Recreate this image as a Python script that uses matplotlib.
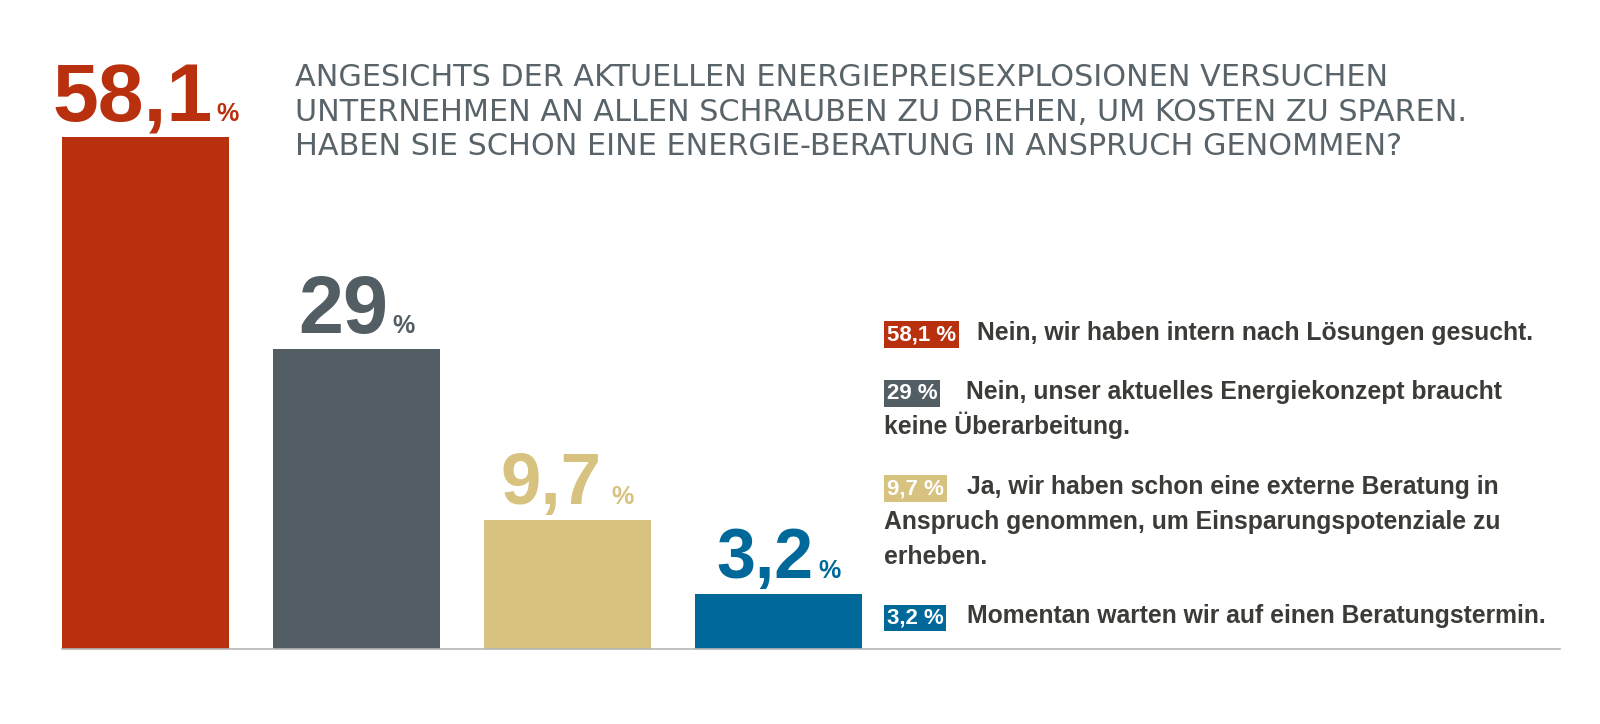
import numpy as np
import matplotlib
matplotlib.use("Agg")
import matplotlib.pyplot as plt

# Data
values = [58.1, 29.0, 9.7, 3.2]
value_labels = ["58,1", "29", "9,7", "3,2"]
colors = ["#B9300E", "#535D64", "#D7C27F", "#00699A"]
title_lines = [
    "ANGESICHTS DER AKTUELLEN ENERGIEPREISEXPLOSIONEN VERSUCHEN",
    "UNTERNEHMEN AN ALLEN SCHRAUBEN ZU DREHEN, UM KOSTEN ZU SPAREN.",
    "HABEN SIE SCHON EINE ENERGIE-BERATUNG IN ANSPRUCH GENOMMEN?",
]
legend_tags = ["58,1 %", "29 %", "9,7 %", "3,2 %"]
legend_texts = [
    ["Nein, wir haben intern nach Lösungen gesucht."],
    ["Nein, unser aktuelles Energiekonzept braucht", "keine Überarbeitung."],
    ["Ja, wir haben schon eine externe Beratung in",
     "Anspruch genommen, um Einsparungspotenziale zu", "erheben."],
    ["Momentan warten wir auf einen Beratungstermin."],
]

W, H = 1600, 724
FONT = "Liberation Sans"
TEXT_DARK = "#3C3B37"
TITLE_COL = "#59636A"


def fx(x):
    return x / W


def fy(y):
    return 1 - y / H


fig = plt.figure(figsize=(W / 100, H / 100), dpi=100)
fig.patch.set_facecolor("white")

# bars: axes spans from first bar's left edge to end of baseline
bar_w = 0.79
step_px = 211.0
x_left = -bar_w / 2
x_right = x_left + (1560 - 62) / step_px
ax = fig.add_axes([fx(62), fy(649), (1560 - 62) / W, (649 - 137) / H])

# bars in the original are not linear in value -> power scale on y
p = 0.77
ax.set_yscale("function", functions=(lambda v: np.sign(v) * np.abs(v) ** p,
                                     lambda v: np.sign(v) * np.abs(v) ** (1 / p)))
x = np.arange(len(values))
ax.bar(x, values, width=bar_w, color=colors, zorder=2)
ax.set_xlim(x_left, x_right)
ax.set_ylim(0, max(values))
for s in ["top", "left", "right"]:
    ax.spines[s].set_visible(False)
ax.spines["bottom"].set_color("#B5B5B5")
ax.spines["bottom"].set_linewidth(1.2)
ax.set_xticks([])
ax.set_yticks([])
ax.minorticks_off()
ax.patch.set_alpha(0)

# big value labels above bars, "58,1" + small "%" centred as a group
fig.canvas.draw()
renderer = fig.canvas.get_renderer()
num_sizes = [59, 58, 52, 50]  # cap height px
pct_gap = [4, 4, 10, 5]
for i, (v, lab, c) in enumerate(zip(values, value_labels, colors)):
    fs = num_sizes[i] / 0.716 * 72 / 100
    t = ax.annotate(lab, xy=(i, v), xytext=(0, 16), textcoords="offset pixels",
                    ha="right", va="baseline", fontsize=fs, fontweight="bold",
                    color=c, family=FONT, annotation_clip=False)
    pc = ax.annotate("%", xy=(i, v), xytext=(0, 16), textcoords="offset pixels",
                     ha="left", va="baseline", fontsize=18, fontweight="bold",
                     color=c, family=FONT, annotation_clip=False)
    wn = t.get_window_extent(renderer).width
    wp = pc.get_window_extent(renderer).width
    gap = pct_gap[i]
    gw = wn + gap + wp
    dx = wn - gw / 2
    t.set_position((dx, 16))
    pc.set_position((dx + gap, 16))

# title
for k, line in enumerate(title_lines):
    fig.text(fx(295), fy(86 + k * 34.7), line, fontsize=21.8, color=TITLE_COL,
             family="DejaVu Sans", ha="left", va="baseline")

# legend
item_baselines = [340, 399, 494, 623.5]
line_gap = 35
text_x = [977, 966, 967, 967]
for i in range(len(legend_tags)):
    y0 = item_baselines[i]
    fig.text(fx(887), fy(y0), legend_tags[i], fontsize=16, fontweight="bold",
             color="white", family=FONT, ha="left", va="baseline",
             bbox=dict(boxstyle="square,pad=0.12", fc=colors[i], ec="none"))
    for j, line in enumerate(legend_texts[i]):
        lx = text_x[i] if j == 0 else 884
        fig.text(fx(lx), fy(y0 + j * line_gap), line, fontsize=17.8,
                 fontweight="bold", color=TEXT_DARK, family=FONT,
                 ha="left", va="baseline")

fig.savefig("out.png", dpi=100, facecolor="white")
